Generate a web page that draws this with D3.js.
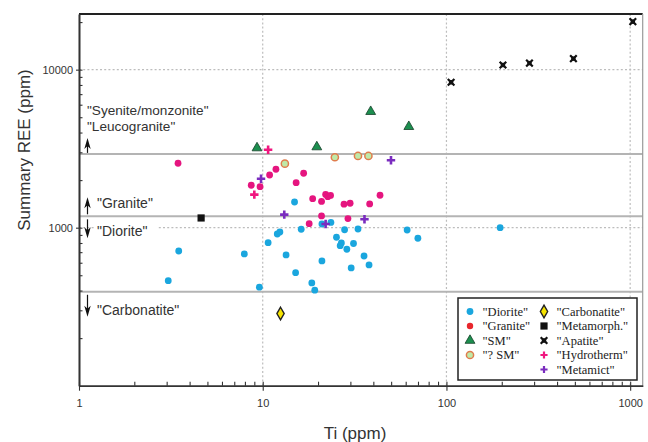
<!DOCTYPE html>
<html>
<head>
<meta charset="utf-8">
<script src="https://cdn.jsdelivr.net/npm/d3@7"></script>
<style>
  html, body { margin: 0; padding: 0; background: #fff; }
  svg { display: block; font-family: "Liberation Sans", Arial, sans-serif; }
</style>
</head>
<body>
<svg id="chart" width="648" height="442"></svg>
<script>
// Ti (ppm) vs summary REE (ppm), one array of [Ti, REE] pairs per group
const diorite = [[3.06,462],[3.49,712],[7.94,682],[9.59,420],[10.7,804],[12.0,912],[12.4,939],[13.4,672],
  [14.9,1454],[15.1,519],[16.2,977],[18.5,447],[19.2,402],[21.0,616],[21.0,1055],[23.5,1079],[27.9,970],
  [33.0,981],[25.2,870],[26.8,800],[26.4,769],[28.7,730],[31.2,794],[35.6,662],[30.3,556],[37.9,581],
  [61.1,967],[69.9,857],[196,1000]];
const granite = [[3.46,2556],[8.66,1855],[9.67,1818],[10.9,2155],[11.8,2342],[16.7,2210],[15.2,1927],
  [18.7,1526],[20.9,1465],[22.0,1622],[22.6,1571],[23.4,1599],[27.7,1409],[29.9,1427],[38.2,1413],
  [43.5,1604],[20.9,1186],[17.9,1060],[29.1,1142]];
const sm = [[9.31,3194],[19.7,3242],[38.7,5424],[62.4,4357]];
const smQuery = [[13.2,2541],[24.7,2790],[33.0,2843],[37.6,2843]];
const carbonatite = [[12.5,286]];
const metamorph = [[4.62,1152]];
const apatite = [[106,8320],[203,10700],[283,11000],[491,11740],[1034,20130]];
const hydrotherm = [[10.7,3116],[9.0,1618]];
const metamict = [[9.79,2042],[13.1,1209],[22.0,1055],[35.8,1130],[49.9,2671]];

// REE boundaries separating the rock-type fields
const boundaries = [2930, 1180, 393];

const xTicks = [1, 10, 100, 1000];
const yTicks = [1000, 10000];
const legendLabels = ['"Diorite"', '"Granite"', '"SM"', '"? SM"',
  '"Carbonatite"', '"Metamorph."', '"Apatite"', '"Hydrotherm"', '"Metamict"'];

const svg = d3.select("#chart");
const plotL = 79, plotR = 642.7, plotT = 14, plotB = 385.7;

const x = d3.scaleLog().domain([1, 1170]).range([plotL, plotR]);
const y = d3.scaleLog().domain([100, 22500]).range([plotB, plotT]);

// minor tick values (2..9 per decade) inside each domain
function minorTicks(lo, hi) {
  const out = [];
  for (let p = 1; p <= 100000; p *= 10)
    for (let m = 2; m <= 9; m++) { const v = m * p; if (v >= lo && v <= hi) out.push(v); }
  return out;
}

// dotted grid at decades
const grid = svg.append("g").attr("stroke", "#bdbdbd").attr("stroke-width", 1.2)
  .attr("stroke-dasharray", "2,2.2");
grid.selectAll("line.gx").data(xTicks.slice(1)).join("line")
  .attr("x1", d => x(d)).attr("x2", d => x(d)).attr("y1", plotT).attr("y2", plotB);
grid.selectAll("line.gy").data(yTicks).join("line")
  .attr("x1", plotL).attr("x2", plotR).attr("y1", d => y(d)).attr("y2", d => y(d));

// field boundaries
svg.append("g").selectAll("line").data(boundaries).join("line")
  .attr("x1", plotL).attr("x2", plotR)
  .attr("y1", d => y(d)).attr("y2", d => y(d))
  .attr("stroke", "#b4b4b4").attr("stroke-width", 2);

// frame: top and right edges
svg.append("line").attr("x1", plotL).attr("x2", plotR).attr("y1", plotT).attr("y2", plotT)
  .attr("stroke", "#222").attr("stroke-width", 1.8);
svg.append("line").attr("x1", plotR).attr("x2", plotR).attr("y1", plotT).attr("y2", plotB)
  .attr("stroke", "#9a9a9a").attr("stroke-width", 1.2);

// axes
const axisColor = "#333";
function styleAxis(g) {
  g.selectAll("path.domain").attr("stroke", axisColor).attr("stroke-width", 1.6);
  g.selectAll(".tick line").attr("stroke", axisColor).attr("stroke-width", 1.1);
  g.selectAll(".tick text").attr("fill", "#333").attr("font-size", 11)
    .attr("font-family", "Liberation Sans, Arial, sans-serif");
}
const xMinor = minorTicks(1, 1170);
svg.append("g").attr("transform", `translate(0,${plotB})`)
  .call(d3.axisBottom(x).tickValues(xMinor.concat(xTicks)).tickSize(-4).tickSizeOuter(0).tickFormat(""))
  .call(styleAxis);
svg.append("g").attr("transform", `translate(0,${plotB})`)
  .call(d3.axisBottom(x).tickValues(xTicks).tickSize(5).tickPadding(9).tickSizeOuter(0).tickFormat(d3.format("d")))
  .call(styleAxis);

const yMinor = minorTicks(100, 22500);
svg.append("g").attr("transform", `translate(${plotL},0)`)
  .call(d3.axisLeft(y).tickValues(yMinor.concat(yTicks)).tickSize(-3.5).tickSizeOuter(0).tickFormat(""))
  .call(styleAxis);
svg.append("g").attr("transform", `translate(${plotL},0)`)
  .call(d3.axisLeft(y).tickValues(yTicks).tickSize(3).tickPadding(3).tickSizeOuter(0).tickFormat(d3.format("d")))
  .call(styleAxis);

// axis titles
svg.append("text").attr("x", 355).attr("y", 439).attr("text-anchor", "middle")
  .attr("font-size", 17).attr("fill", "#333").text("Ti (ppm)");
svg.append("text").attr("transform", "translate(30,150) rotate(-90)").attr("text-anchor", "middle")
  .attr("font-size", 17).attr("fill", "#333").text("Summary REE (ppm)");

// marker painters
const C = {
  diorite: "#1aa6de", granite: "#e5157f", graniteKey: "#e8262c", sm: "#1c8f4f",
  smqFill: "#bfe9a8", smqStroke: "#e07c4c", carb: "#f6e400", dark: "#111",
  hydro: "#f0177f", metamict: "#7a2cbf"
};
const painters = {
  diorite: g => g.append("circle").attr("r", 3.4).attr("fill", C.diorite),
  granite: g => g.append("circle").attr("r", 3.4).attr("fill", C.granite),
  graniteKey: g => g.append("circle").attr("r", 3.2).attr("fill", C.graniteKey),
  sm: g => g.append("path").attr("d", d3.symbol(d3.symbolTriangle, 42)())
    .attr("fill", C.sm).attr("stroke", "#17402a").attr("stroke-width", 0.8),
  smq: g => g.append("circle").attr("r", 3.6).attr("fill", C.smqFill)
    .attr("stroke", C.smqStroke).attr("stroke-width", 1.5),
  carb: g => g.append("path").attr("d", d3.symbol(d3.symbolDiamond, 46)())
    .attr("fill", C.carb).attr("stroke", "#222").attr("stroke-width", 1.4),
  metamorph: g => g.append("rect").attr("x", -3.6).attr("y", -3.6).attr("width", 7.2).attr("height", 7.2)
    .attr("fill", C.dark),
  apatite: g => {
    g.append("rect").attr("x", -2.2).attr("y", -2.2).attr("width", 4.4).attr("height", 4.4).attr("fill", C.dark);
    g.append("path").attr("d", "M-3.3,-3.3L3.3,3.3M3.3,-3.3L-3.3,3.3")
      .attr("stroke", C.dark).attr("stroke-width", 2.2);
  },
  hydro: g => g.append("path").attr("d", "M-4.2,0H4.2M0,-4.2V4.2")
    .attr("stroke", C.hydro).attr("stroke-width", 2.6),
  metamict: g => g.append("path").attr("d", "M-4.2,0H4.2M0,-4.2V4.2")
    .attr("stroke", C.metamict).attr("stroke-width", 2.6)
};

function plot(data, kind) {
  const g = svg.append("g");
  g.selectAll("g").data(data).join("g")
    .attr("transform", d => `translate(${x(d[0])},${y(d[1])})`)
    .each(function () { painters[kind](d3.select(this)); });
}
plot(diorite, "diorite");
plot(granite, "granite");
plot(metamorph, "metamorph");
plot(carbonatite, "carb");
plot(sm, "sm");
plot(smQuery, "smq");
plot(apatite, "apatite");
plot(hydrotherm, "hydro");
plot(metamict, "metamict");

// field annotations with arrows
const ann = svg.append("g").attr("fill", "#333").attr("font-size", 14);
const ax = 87.5;
function arrow(y0, y1) {
  const dir = y1 < y0 ? -1 : 1;
  ann.append("line").attr("x1", ax).attr("x2", ax).attr("y1", y0).attr("y2", y1 - dir * 6)
    .attr("stroke", "#111").attr("stroke-width", 1.2);
  ann.append("path")
    .attr("d", `M${ax},${y1}L${ax - 3.2},${y1 - dir * 11}L${ax},${y1 - dir * 8}L${ax + 3.2},${y1 - dir * 11}Z`)
    .attr("fill", "#111");
}
const yS = y(boundaries[0]), yG = y(boundaries[1]), yC = y(boundaries[2]);
ann.append("text").attr("x", 87).attr("y", yS - 38.5).attr("font-size", 13.6).text('"Syenite/monzonite"');
ann.append("text").attr("x", 87).attr("y", yS - 22.5).attr("font-size", 13.6).text('"Leucogranite"');
arrow(yS - 1, yS - 16);
ann.append("text").attr("x", 97).attr("y", yG - 8).text('"Granite"');
arrow(yG - 2, yG - 19);
ann.append("rect").attr("x", 95).attr("y", yG + 6).attr("width", 62).attr("height", 17).attr("fill", "#fff");
ann.append("text").attr("x", 97).attr("y", yG + 20).text('"Diorite"');
arrow(yG + 3, yG + 22);
ann.append("text").attr("x", 97).attr("y", yC + 23).text('"Carbonatite"');
arrow(yC + 3, yC + 25);

// legend
const lg = svg.append("g").attr("transform", "translate(458,298)");
lg.append("rect").attr("width", 179).attr("height", 82).attr("fill", "#fff")
  .attr("stroke", "#222").attr("stroke-width", 1.5);
const keyKinds = ["diorite", "graniteKey", "sm", "smq", "carb", "metamorph", "apatite", "hydro", "metamict"];
legendLabels.forEach((label, i) => {
  const col = i < 4 ? 0 : 1, row = i < 4 ? i : i - 4;
  const mx = col === 0 ? 12 : 86, ty = 13.5 + row * 14.5;
  const m = lg.append("g").attr("transform", `translate(${mx},${ty})`);
  painters[keyKinds[i]](m);
  if (keyKinds[i] === "hydro" || keyKinds[i] === "metamict") m.attr("transform", `translate(${mx},${ty}) scale(0.85)`);
  lg.append("text").attr("x", mx + 12.5).attr("y", ty + 4.2)
    .style("font-family", "'Liberation Serif', 'Times New Roman', serif").style("font-size", "12.5px")
    .attr("fill", "#222").text(label);
});
</script>
</body>
</html>
